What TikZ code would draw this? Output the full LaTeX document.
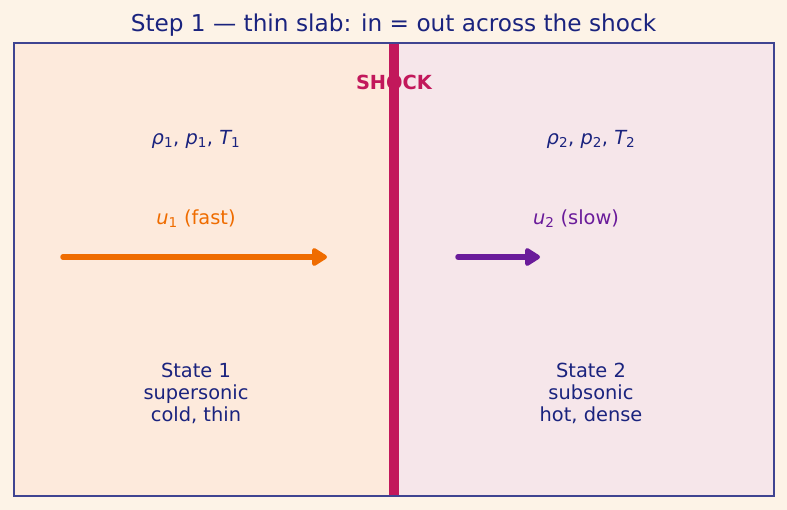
\documentclass[tikz,border=0pt]{standalone}
\usepackage{fontspec}
\setmainfont{DejaVu Sans}
\usetikzlibrary{arrows.meta}
\definecolor{bgc}{HTML}{FDF3E7}
\definecolor{leftc}{HTML}{FDEADC}
\definecolor{rightc}{HTML}{F6E6EA}
\definecolor{framec}{HTML}{3F4491}
\definecolor{shockc}{HTML}{C2185B}
\definecolor{navy}{HTML}{1A237E}
\definecolor{orng}{HTML}{EF6C00}
\definecolor{purp}{HTML}{6A1B9A}
\newcommand{\sbs}[1]{\textsubscript{#1}}
\newcommand{\vr}[1]{{\itshape #1}}
\tikzset{
  lbl/.style={font=\fontsize{19.4}{22}\selectfont, text=navy, align=center, inner sep=0pt},
  flow/.style={line width=5.5pt, line cap=round, -{Triangle[line join=round, length=17pt, width=20pt]}},
}
\begin{document}
\begin{tikzpicture}[x=1pt,y=-1pt]
\fill[bgc] (0,0) rectangle (787,510);
\useasboundingbox (0,0) rectangle (787,510);
\fill[leftc] (14,43) rectangle (394,496);
\fill[rightc] (394,43) rectangle (774,496);
\node[lbl, font=\fontsize{23.2}{27}\selectfont] (title) at (393.5,25) {Step 1 — thin slab: in = out across the shock};
\node[lbl, text=shockc, font=\bfseries\fontsize{19.4}{22}\selectfont] (shocklbl) at (394,82) {SHOCK};
\draw[shockc, line width=10pt] (394,43) coordinate (stop) -- (394,496) coordinate (sbot);
\draw[framec, line width=1.3pt] (14,43) rectangle (774,496);
\node[lbl] (s1) at (196,139) {\vr{ρ}\sbs{1}, \vr{p}\sbs{1}, \vr{T}\sbs{1}};
\node[lbl] (s2) at (591,139) {\vr{ρ}\sbs{2}, \vr{p}\sbs{2}, \vr{T}\sbs{2}};
\node[lbl, text=orng] (u1) at (196,219) {\vr{u}\sbs{1} (fast)};
\node[lbl, text=purp] (u2) at (576,219) {\vr{u}\sbs{2} (slow)};
\coordinate (a1s) at (63,257);
\coordinate (a1e) at (327,257);
\coordinate (a2s) at (458,257);
\coordinate (a2e) at (540,257);
\draw[flow, orng] (a1s) -- (a1e);
\draw[flow, purp] (a2s) -- (a2e);
\node[lbl] (st1) at (196,393) {State 1\\supersonic\\cold, thin};
\node[lbl] (st2) at (591,393) {State 2\\subsonic\\hot, dense};
\end{tikzpicture}
\end{document}
